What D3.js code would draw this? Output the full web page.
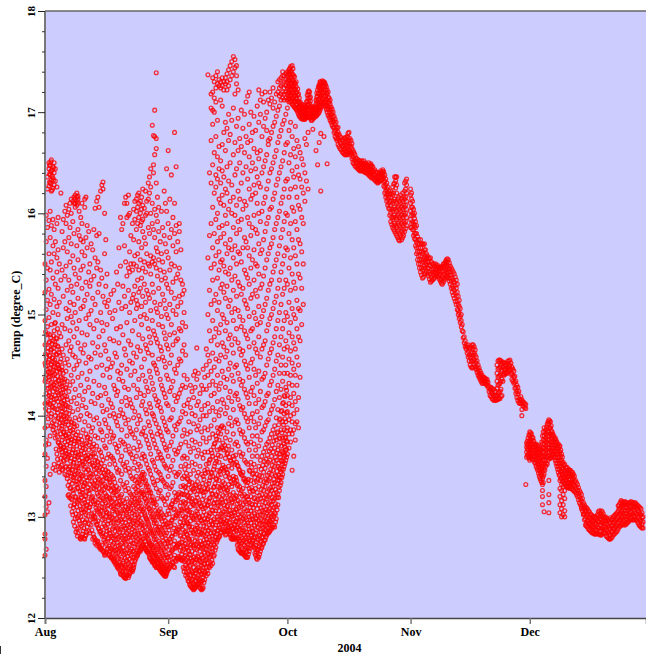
<!DOCTYPE html>
<html>
<head>
<meta charset="utf-8">
<script src="https://cdn.jsdelivr.net/npm/d3@7"></script>
<style>
  html, body { margin: 0; padding: 0; background: #fff; overflow: hidden; }
  svg { display: block; }
  text { font-family: "Liberation Serif", serif; font-weight: bold; fill: #000; }
</style>
</head>
<body>
<div id="chart"></div>
<script>
// tick values
var tempTicks = [12, 13, 14, 15, 16, 17, 18];
var tempMinorTicks = [12.2, 12.4, 12.6, 12.8, 13.2, 13.4, 13.6, 13.8, 14.2, 14.4, 14.6, 14.8, 15.2, 15.4, 15.6, 15.8, 16.2, 16.4, 16.6, 16.8, 17.2, 17.4, 17.6, 17.8];
var monthNames = ["Aug", "Sep", "Oct", "Nov", "Dec"];
var monthIndex = [7, 8, 9, 10, 11];

// readings per month: each row is [day of month, temp, temp, ...]
var augReadings = [
  [1.0, 12.62, 12.78, 12.83, 13.02, 13.2, 13.36, 13.62, 13.88, 14.12, 14.34, 14.52, 14.7, 14.94, 15.22, 15.5],
  [1.3, 12.68, 13.1, 13.3, 13.5, 13.76, 14.02, 14.22, 14.41, 14.58, 14.8, 15.05, 15.34, 15.72, 15.98],
  [1.6, 13.05, 13.58, 13.9, 14.15, 14.3, 14.46, 14.63, 14.88, 15.14, 15.46, 15.86, 16.24, 16.36],
  [2.0, 13.14, 13.72, 14.05, 14.2, 14.38, 14.55, 14.72, 14.97, 15.25, 15.6, 15.93, 16.27, 16.44, 16.5],
  [2.3, 13.42, 13.8, 14.12, 14.28, 14.42, 14.6, 14.8, 15.1, 15.44, 15.76, 16.02, 16.3, 16.38, 16.48],
  [2.6, 13.9, 14.02, 14.18, 14.33, 14.5, 14.66, 14.9, 15.2, 15.52, 15.88, 16.22, 16.33, 16.42, 16.53],
  [3.0, 13.48, 13.86, 14.08, 14.24, 14.4, 14.57, 14.74, 15.02, 15.36, 15.68, 15.94, 16.25, 16.35, 16.46],
  [3.3, 13.52, 13.95, 14.16, 14.3, 14.48, 14.63, 14.84, 15.15, 15.6, 15.84, 16.28, 16.4, 16.5],
  [3.6, 13.46, 13.78, 14.0, 14.2, 14.36, 14.52, 14.7, 14.92, 15.3, 15.72, 16.32, 16.44],
  [4.0, 13.62, 13.84, 14.06, 14.26, 14.44, 14.6, 14.76, 15.08, 15.42, 15.56, 15.9, 16.26],
  [4.3, 13.5, 13.74, 13.98, 14.14, 14.34, 14.5, 14.68, 15.0, 15.26, 15.64, 15.96],
  [4.6, 13.44, 13.66, 13.88, 14.1, 14.28, 14.46, 14.62, 14.82, 15.12, 15.5],
  [5.0, 13.58, 13.7, 13.82, 13.96, 14.08, 14.22, 14.38, 14.56, 14.78, 15.34, 16.2],
  [5.3, 13.46, 13.64, 13.76, 13.9, 14.04, 14.18, 14.32, 14.48, 14.66, 14.9, 15.44, 15.82],
  [5.6, 13.56, 13.68, 13.84, 14.0, 14.12, 14.26, 14.42, 14.6, 15.18, 15.66, 15.94],
  [6.0, 13.42, 13.6, 13.74, 13.92, 14.06, 14.2, 14.36, 14.52, 14.86, 15.38, 15.72, 16.02],
  [6.3, 13.5, 13.66, 13.8, 13.94, 14.1, 14.28, 14.44, 14.7, 15.06, 15.48, 15.9, 16.08],
  [6.6, 13.38, 13.62, 13.78, 13.98, 14.16, 14.34, 14.56, 14.96, 15.24, 15.62, 15.98],
  [7.0, 13.22, 13.44, 13.64, 13.82, 14.02, 14.24, 14.5, 14.74, 15.04, 15.34, 15.76, 16.04],
  [7.3, 13.28, 13.5, 13.7, 13.88, 14.08, 14.3, 14.64, 14.84, 15.12, 15.52, 15.86, 16.1],
  [7.6, 13.18, 13.4, 13.58, 13.76, 13.94, 14.14, 14.4, 14.68, 14.98, 15.28, 15.7, 16.0, 16.14],
  [8.0, 13.02, 13.26, 13.46, 13.66, 13.86, 14.04, 14.34, 14.6, 14.92, 15.22, 15.58, 15.92, 16.12],
  [8.3, 13.12, 13.36, 13.54, 13.72, 13.92, 14.18, 14.46, 14.78, 15.1, 15.46, 15.8, 16.1, 16.16],
  [8.6, 12.98, 13.2, 13.42, 13.6, 13.78, 13.98, 14.26, 14.58, 15.02, 15.4, 16.06, 16.1, 16.14, 16.18],
  [9.0, 12.88, 13.1, 13.32, 13.5, 13.7, 13.9, 14.12, 14.5, 14.86, 15.3, 15.68, 16.08, 16.12, 16.16, 16.2],
  [9.3, 12.84, 13.06, 13.28, 13.48, 13.64, 13.84, 14.06, 14.38, 14.72, 15.16, 15.54, 15.84, 16.1, 16.14, 16.17],
  [9.6, 12.96, 13.16, 13.38, 13.56, 13.74, 13.96, 14.2, 14.54, 14.94, 15.36, 15.78, 16.02],
  [10.0, 12.78, 13.0, 13.22, 13.42, 13.62, 13.8, 14.0, 14.3, 14.66, 15.06, 15.44, 15.74, 15.96],
  [10.3, 12.8, 13.04, 13.24, 13.4, 13.58, 13.76, 14.1, 14.42, 14.82, 15.26, 15.62, 15.9, 16.1],
  [10.6, 12.86, 13.08, 13.3, 13.52, 13.68, 13.86, 14.16, 14.62, 15.08, 15.48, 15.72],
  [11.0, 12.78, 12.94, 13.14, 13.34, 13.54, 13.72, 13.94, 14.24, 14.7, 15.14, 15.58, 16.06, 16.14],
  [11.3, 12.82, 13.02, 13.2, 13.44, 13.6, 13.82, 14.08, 14.52, 14.96, 15.32, 15.76, 16.16],
  [11.6, 12.9, 13.12, 13.36, 13.58, 13.78, 14.02, 14.36, 14.8, 15.2, 15.66, 15.88],
  [12.0, 12.86, 13.06, 13.26, 13.46, 13.66, 13.9, 14.28, 14.58, 15.0, 15.42, 15.82],
  [12.3, 12.84, 13.1, 13.32, 13.52, 13.74, 14.0, 14.44, 14.9, 15.28, 15.5],
  [12.6, 12.92, 13.18, 13.4, 13.6, 13.84, 14.14, 14.56, 15.04, 15.34, 15.7],
  [13.0, 12.78, 12.98, 13.2, 13.42, 13.62, 13.88, 14.22, 14.72, 15.16, 15.64],
  [13.3, 12.8, 13.04, 13.28, 13.5, 13.72, 13.96, 14.34, 14.86, 15.38, 15.84],
  [13.6, 12.74, 13.0, 13.16, 13.36, 13.56, 13.8, 14.12, 14.62, 15.1, 15.56, 16.05],
  [14.0, 12.72, 12.92, 13.12, 13.3, 13.48, 13.7, 13.98, 14.48, 14.94, 15.46, 15.78, 16.12],
  [14.3, 12.76, 12.96, 13.14, 13.34, 13.54, 13.78, 14.18, 14.68, 15.22, 15.52, 16.16],
  [14.6, 12.7, 12.88, 13.08, 13.28, 13.46, 13.66, 13.92, 14.3, 14.78, 15.3, 15.8, 16.06],
  [15.0, 12.68, 12.86, 13.06, 13.24, 13.44, 13.64, 13.86, 14.2, 14.6, 15.02, 15.44, 16.22],
  [15.3, 12.72, 12.9, 13.1, 13.26, 13.4, 13.6, 13.84, 14.1, 14.5, 14.92, 15.36, 16.28],
  [15.6, 12.66, 12.84, 13.02, 13.18, 13.36, 13.56, 13.76, 14.04, 14.4, 14.84, 15.18, 16.24, 16.31],
  [16.0, 12.62, 12.8, 12.98, 13.16, 13.32, 13.5, 13.7, 13.96, 14.28, 14.7, 15.12, 15.6, 16.0],
  [16.3, 12.64, 12.82, 13.0, 13.14, 13.3, 13.46, 13.68, 13.92, 14.22, 14.64, 15.28, 15.74],
  [16.6, 12.68, 12.86, 13.04, 13.2, 13.38, 13.58, 13.8, 14.06, 14.46, 14.9, 15.08, 15.4],
  [17.0, 12.62, 12.78, 12.96, 13.12, 13.28, 13.44, 13.62, 13.88, 14.16, 14.56, 15.14],
  [17.3, 12.66, 12.84, 13.0, 13.18, 13.34, 13.52, 13.74, 14.0, 14.38, 14.76, 15.02],
  [17.6, 12.6, 12.76, 12.94, 13.1, 13.26, 13.42, 13.6, 13.84, 14.12, 14.48, 15.2],
  [18.0, 12.6, 12.72, 12.88, 13.06, 13.22, 13.4, 13.58, 13.78, 14.08, 14.52, 14.96],
  [18.3, 12.58, 12.74, 12.9, 13.08, 13.24, 13.38, 13.56, 13.8, 14.02, 14.3, 14.74, 15.24],
  [18.6, 12.56, 12.7, 12.86, 13.02, 13.18, 13.34, 13.52, 13.72, 13.98, 14.26, 14.62, 15.04],
  [19.0, 12.54, 12.68, 12.82, 12.98, 13.14, 13.3, 13.48, 13.68, 13.94, 14.2, 14.58, 14.86, 15.42],
  [19.3, 12.5, 12.64, 12.78, 12.94, 13.1, 13.26, 13.44, 13.64, 13.9, 14.24, 14.44, 15.3],
  [19.6, 12.52, 12.66, 12.8, 12.96, 13.12, 13.28, 13.46, 13.7, 14.0, 14.36, 14.72, 15.12, 15.66],
  [20.0, 12.44, 12.58, 12.72, 12.88, 13.04, 13.2, 13.36, 13.56, 13.76, 14.06, 14.42, 14.88, 15.48, 15.96],
  [20.3, 12.46, 12.6, 12.74, 12.9, 13.06, 13.22, 13.42, 13.6, 13.86, 14.14, 14.5, 15.06, 15.84],
  [20.6, 12.42, 12.54, 12.7, 12.84, 13.0, 13.16, 13.32, 13.52, 13.74, 14.02, 14.34, 14.8, 15.28, 15.9],
  [21.0, 12.4, 12.52, 12.66, 12.82, 12.98, 13.14, 13.3, 13.5, 13.72, 13.98, 14.28, 14.66, 15.18, 15.68, 16.1],
  [21.3, 12.39, 12.5, 12.64, 12.78, 12.94, 13.1, 13.26, 13.46, 13.66, 13.92, 14.18, 14.6, 15.08, 15.52, 16.16],
  [21.6, 12.42, 12.56, 12.68, 12.84, 13.02, 13.18, 13.34, 13.54, 13.8, 14.1, 14.46, 14.92, 15.38, 15.96, 16.1],
  [22.0, 12.4, 12.54, 12.7, 12.86, 13.0, 13.12, 13.28, 13.48, 13.7, 13.96, 14.26, 14.74, 15.24, 15.46, 15.98, 16.18],
  [22.3, 12.44, 12.58, 12.72, 12.9, 13.06, 13.24, 13.44, 13.64, 13.88, 14.16, 14.54, 15.02, 15.42, 15.62, 16.0],
  [22.6, 12.48, 12.62, 12.76, 12.92, 13.08, 13.22, 13.4, 13.62, 13.84, 14.12, 14.4, 14.7, 15.12, 15.5, 15.78],
  [23.0, 12.46, 12.6, 12.74, 12.88, 13.04, 13.2, 13.38, 13.58, 13.82, 14.08, 14.52, 14.84, 15.16, 15.44, 15.9],
  [23.3, 12.5, 12.66, 12.82, 12.96, 13.14, 13.3, 13.48, 13.68, 13.98, 14.3, 14.62, 15.2, 15.5, 15.74, 16.04],
  [23.6, 12.56, 12.7, 12.86, 13.02, 13.18, 13.36, 13.54, 13.78, 14.04, 14.44, 14.94, 15.28, 15.58, 15.94, 16.12],
  [24.0, 12.6, 12.76, 12.92, 13.08, 13.24, 13.4, 13.6, 13.86, 14.18, 14.58, 15.06, 15.14, 15.48, 15.84, 16.02, 16.14],
  [24.3, 12.62, 12.78, 12.94, 13.1, 13.26, 13.46, 13.66, 13.92, 14.26, 14.68, 15.1, 15.34, 15.6, 15.9, 16.06, 16.18],
  [24.6, 12.66, 12.82, 13.0, 13.16, 13.34, 13.52, 13.74, 14.0, 14.36, 14.8, 15.22, 15.44, 15.72, 15.96, 16.1, 16.2],
  [25.0, 12.66, 12.8, 12.96, 13.14, 13.32, 13.5, 13.7, 13.96, 14.22, 14.64, 14.98, 15.26, 15.54, 15.88, 16.0, 16.12],
  [25.3, 12.7, 12.84, 13.02, 13.2, 13.38, 13.58, 13.82, 14.1, 14.48, 14.9, 15.08, 15.36, 15.66, 15.92, 16.04, 16.16],
  [25.6, 12.72, 12.88, 13.06, 13.24, 13.44, 13.62, 13.84, 14.14, 14.4, 14.76, 15.18, 15.46, 15.82, 15.94, 16.08, 16.24],
  [26.0, 12.7, 12.86, 13.04, 13.22, 13.42, 13.6, 13.88, 14.2, 14.56, 15.0, 15.3, 15.52, 15.76, 16.05],
  [26.3, 12.68, 12.82, 13.0, 13.18, 13.36, 13.56, 13.8, 14.06, 14.34, 14.7, 15.12, 15.42, 15.7, 15.98, 16.22],
  [26.6, 12.66, 12.8, 12.98, 13.16, 13.32, 13.52, 13.76, 14.02, 14.28, 14.66, 14.96, 15.24, 15.6, 16.0, 16.12],
  [27.0, 12.65, 12.78, 12.94, 13.12, 13.3, 13.48, 13.72, 13.94, 14.24, 14.62, 14.86, 15.2, 15.5, 15.86, 16.14, 16.3],
  [27.3, 12.6, 12.74, 12.9, 13.08, 13.26, 13.46, 13.68, 13.9, 14.12, 14.44, 14.78, 15.16, 15.48, 15.8, 16.2, 16.36],
  [27.6, 12.58, 12.72, 12.88, 13.06, 13.24, 13.42, 13.62, 13.84, 14.08, 14.38, 14.72, 15.04, 15.4, 15.58, 16.0, 16.26, 16.44],
  [28.0, 12.55, 12.7, 12.86, 13.02, 13.2, 13.38, 13.56, 13.8, 14.02, 14.32, 14.6, 14.94, 15.3, 15.52, 15.9, 16.1, 16.87],
  [28.3, 12.56, 12.7, 12.84, 13.0, 13.16, 13.34, 13.54, 13.76, 14.0, 14.26, 14.52, 14.84, 15.22, 15.56, 15.84, 16.4, 16.48, 16.77],
  [28.6, 12.52, 12.66, 12.8, 12.96, 13.14, 13.32, 13.5, 13.72, 13.96, 14.2, 14.5, 14.8, 15.12, 15.5, 15.76, 16.04, 16.58, 17.02, 16.76],
  [29.0, 12.5, 12.64, 12.78, 12.94, 13.12, 13.28, 13.46, 13.68, 13.92, 14.16, 14.46, 14.76, 15.06, 15.46, 15.66, 15.98, 16.3, 17.39, 16.74, 16.64],
  [29.3, 12.54, 12.68, 12.84, 13.0, 13.18, 13.36, 13.58, 13.82, 14.1, 14.42, 14.72, 15.02, 15.38, 15.62, 15.92, 16.16],
  [29.6, 12.5, 12.62, 12.76, 12.9, 13.06, 13.24, 13.44, 13.64, 13.88, 14.14, 14.56, 14.9, 15.26, 15.54, 15.82, 16.06],
  [30.0, 12.48, 12.6, 12.74, 12.9, 13.08, 13.26, 13.42, 13.62, 13.84, 14.08, 14.36, 14.68, 15.1, 15.44, 15.72],
  [30.3, 12.46, 12.58, 12.72, 12.88, 13.04, 13.2, 13.38, 13.58, 13.8, 14.04, 14.3, 14.64, 14.98, 15.34, 15.6, 16.02],
  [30.6, 12.44, 12.56, 12.7, 12.86, 13.02, 13.18, 13.36, 13.56, 13.76, 13.98, 14.26, 14.58, 14.88, 15.2, 15.52, 15.86],
  [31.0, 12.42, 12.54, 12.68, 12.84, 13.0, 13.16, 13.34, 13.52, 13.72, 13.94, 14.22, 14.54, 14.82, 15.14, 15.42, 15.78, 16.22],
  [31.3, 12.41, 12.52, 12.66, 12.82, 12.96, 13.12, 13.3, 13.5, 13.68, 13.9, 14.18, 14.48, 14.76, 15.06, 15.36, 15.7, 16.1],
  [31.6, 12.44, 12.56, 12.7, 12.84, 13.02, 13.18, 13.32, 13.48, 13.66, 13.86, 14.12, 14.4, 14.7, 15.0, 15.3, 15.62, 16.02, 16.44]
];

// second pass over the dense part of August, read between the first rows
var augDense = [
  [1.15, 14.37, 14.49, 14.61, 14.83, 14.07, 13.71],
  [1.8, 14.27, 14.43, 14.53, 14.67, 14.81, 14.13, 13.97],
  [2.15, 14.47, 14.35, 14.59, 14.73, 14.23, 14.11, 16.39, 16.31, 16.47],
  [2.45, 14.51, 14.39, 14.65, 14.77, 14.19, 13.99, 16.41, 16.29, 16.51],
  [2.8, 14.43, 14.29, 14.57, 14.71, 14.09, 13.93, 16.43, 16.37, 16.23],
  [3.15, 14.53, 14.31, 14.45, 14.67, 14.13, 13.89, 14.79, 16.33, 16.45],
  [3.45, 14.41, 14.27, 14.55, 14.73, 14.07, 13.83, 14.91],
  [3.8, 14.47, 14.33, 14.61, 14.77, 14.17, 13.91, 13.67],
  [4.15, 14.39, 14.23, 14.51, 14.69, 14.03, 13.79, 13.57, 14.86],
  [4.45, 14.35, 14.21, 14.47, 14.63, 13.97, 13.73, 13.53],
  [4.8, 14.43, 14.17, 14.31, 14.53, 13.93, 13.71, 13.49],
  [5.15, 14.29, 14.13, 14.45, 14.01, 13.87, 13.67, 13.51],
  [5.45, 14.37, 14.23, 14.07, 13.93, 13.79, 13.61, 13.47],
  [5.8, 14.33, 14.15, 13.99, 13.83, 13.69, 13.55],
  [6.15, 14.27, 14.11, 13.97, 13.81, 13.65, 13.49],
  [6.45, 14.19, 14.03, 13.87, 13.71, 13.57, 13.41],
  [6.8, 14.09, 13.91, 13.75, 13.59, 13.47, 13.31, 13.21],
  [7.15, 13.97, 13.79, 13.61, 13.49, 13.35, 13.19],
  [7.45, 13.85, 13.73, 13.55, 13.43, 13.29, 13.11],
  [7.8, 13.93, 13.77, 13.63, 13.47, 13.33, 13.17, 13.05],
  [8.15, 13.83, 13.67, 13.53, 13.39, 13.23, 13.09, 12.95],
  [8.45, 13.89, 13.75, 13.57, 13.41, 13.27, 13.13, 12.91],
  [8.8, 13.81, 13.63, 13.49, 13.35, 13.19, 13.03, 12.85],
  [9.15, 13.75, 13.59, 13.43, 13.29, 13.15, 12.99, 12.81],
  [9.45, 13.77, 13.61, 13.45, 13.33, 13.17, 13.01, 12.89],
  [9.8, 13.69, 13.53, 13.37, 13.25, 13.11, 12.93, 12.79],
  [10.15, 13.65, 13.51, 13.35, 13.19, 13.07, 12.91, 12.8],
  [10.45, 13.71, 13.55, 13.41, 13.27, 13.13, 12.97, 12.83],
  [10.8, 13.63, 13.47, 13.31, 13.17, 13.05, 12.89, 12.79],
  [11.15, 13.67, 13.49, 13.33, 13.21, 13.07, 12.95, 12.81],
  [11.45, 13.73, 13.57, 13.39, 13.25, 13.11, 12.97, 12.85],
  [11.8, 13.79, 13.61, 13.47, 13.29, 13.15, 13.01],
  [12.15, 13.71, 13.55, 13.39, 13.23, 13.09, 12.93],
  [12.45, 13.77, 13.59, 13.43, 13.27, 13.13, 12.97],
  [12.8, 13.69, 13.53, 13.35, 13.19, 13.03, 12.87],
  [13.15, 13.67, 13.51, 13.33, 13.15, 13.01, 12.83],
  [13.45, 13.63, 13.47, 13.31, 13.13, 12.99, 12.79],
  [13.8, 13.59, 13.43, 13.27, 13.09, 12.95, 12.77],
  [14.15, 13.55, 13.39, 13.23, 13.07, 12.93, 12.75],
  [14.45, 13.51, 13.37, 13.21, 13.05, 12.89, 12.73],
  [14.8, 13.49, 13.33, 13.17, 13.03, 12.85, 12.71],
  [15.15, 13.53, 13.35, 13.19, 13.01, 12.83, 12.69],
  [15.45, 13.47, 13.31, 13.13, 12.97, 12.81, 12.67],
  [15.8, 13.43, 13.27, 13.09, 12.93, 12.77, 12.65],
  [16.15, 13.41, 13.23, 13.07, 12.91, 12.75, 12.63],
  [16.45, 13.39, 13.21, 13.05, 12.89, 12.73, 12.65],
  [16.8, 13.45, 13.29, 13.11, 12.93, 12.79, 12.69],
  [17.15, 13.37, 13.19, 13.03, 12.87, 12.71, 12.63],
  [17.45, 13.35, 13.17, 13.01, 12.83, 12.69, 12.61],
  [17.8, 13.31, 13.15, 12.99, 12.81, 12.67, 12.59],
  [18.15, 13.29, 13.11, 12.95, 12.79, 12.65, 12.57],
  [18.45, 13.27, 13.13, 12.97, 12.81, 12.67, 12.55],
  [18.8, 13.25, 13.07, 12.91, 12.77, 12.63, 12.53],
  [19.15, 13.21, 13.05, 12.89, 12.75, 12.61, 12.51],
  [19.45, 13.19, 13.03, 12.87, 12.71, 12.59, 12.49],
  [19.8, 13.15, 13.01, 12.85, 12.69, 12.55, 12.47],
  [20.15, 13.13, 12.97, 12.81, 12.67, 12.53, 12.43],
  [20.45, 13.11, 12.95, 12.79, 12.65, 12.51, 12.45],
  [20.8, 13.07, 12.91, 12.77, 12.63, 12.49, 12.41],
  [21.15, 13.06, 12.89, 12.75, 12.59, 12.47, 12.4],
  [21.45, 13.04, 12.88, 12.73, 12.57, 12.45, 12.41],
  [21.8, 13.08, 12.92, 12.79, 12.61, 12.49, 12.43],
  [22.15, 13.1, 12.96, 12.8, 12.64, 12.5, 12.42],
  [22.45, 13.14, 12.98, 12.82, 12.66, 12.52, 12.45],
  [22.8, 13.16, 13.0, 12.84, 12.68, 12.56, 12.47],
  [23.15, 13.12, 12.94, 12.8, 12.66, 12.52, 12.48],
  [23.45, 13.22, 13.06, 12.9, 12.74, 12.6, 12.53],
  [23.8, 13.28, 13.12, 12.96, 12.8, 12.64, 12.58],
  [24.15, 13.34, 13.18, 13.02, 12.86, 12.7, 12.62],
  [24.45, 13.3, 13.14, 12.98, 12.84, 12.72, 12.64],
  [24.8, 13.36, 13.22, 13.06, 12.9, 12.74, 12.67],
  [25.15, 13.4, 13.24, 13.08, 12.92, 12.76, 12.68],
  [25.45, 13.42, 13.26, 13.1, 12.94, 12.78, 12.71],
  [25.8, 13.38, 13.22, 13.08, 12.92, 12.78, 12.72],
  [26.15, 13.34, 13.18, 13.02, 12.9, 12.76, 12.69],
  [26.45, 13.3, 13.14, 12.98, 12.84, 12.72, 12.67],
  [26.8, 13.26, 13.1, 12.96, 12.82, 12.7, 12.65],
  [27.15, 13.24, 13.08, 12.92, 12.76, 12.68, 12.63],
  [27.45, 13.2, 13.04, 12.86, 12.74, 12.66, 12.59],
  [27.8, 13.16, 13.0, 12.84, 12.72, 12.64, 12.57],
  [28.15, 13.14, 12.98, 12.82, 12.68, 12.62, 12.56],
  [28.45, 13.1, 12.94, 12.78, 12.64, 12.6, 12.54],
  [28.8, 13.06, 12.9, 12.74, 12.62, 12.58, 12.52],
  [29.15, 13.04, 12.88, 12.72, 12.6, 12.56, 12.5],
  [29.45, 13.02, 12.86, 12.7, 12.58, 12.54, 12.5],
  [29.8, 13.0, 12.84, 12.68, 12.56, 12.52, 12.48],
  [30.15, 12.98, 12.82, 12.66, 12.54, 12.5, 12.46],
  [30.45, 12.96, 12.8, 12.64, 12.52, 12.48, 12.45],
  [30.8, 12.92, 12.76, 12.62, 12.5, 12.46, 12.43],
  [31.15, 12.9, 12.74, 12.6, 12.48, 12.44, 12.42],
  [31.45, 12.92, 12.78, 12.62, 12.5, 12.46, 12.42],
  [31.8, 12.94, 12.76, 12.6, 12.52, 12.48, 12.46]
];

var sepReadings = [
  [1.0, 12.48, 12.6, 12.74, 12.9, 13.06, 13.22, 13.4, 13.6, 13.84, 14.1, 14.36, 14.66, 14.96, 15.26, 15.56, 15.9, 16.62],
  [1.4, 12.5, 12.64, 12.78, 12.94, 13.1, 13.28, 13.46, 13.7, 13.96, 14.24, 14.52, 14.8, 15.1, 15.44, 15.76, 16.14],
  [1.8, 12.52, 12.66, 12.8, 12.96, 13.12, 13.3, 13.5, 13.74, 13.98, 14.28, 14.6, 14.9, 15.22, 15.5, 15.84, 16.38],
  [2.2, 12.54, 12.68, 12.84, 13.0, 13.16, 13.34, 13.56, 13.8, 14.06, 14.34, 14.7, 15.04, 15.32, 15.68, 15.96],
  [2.6, 12.5, 12.62, 12.76, 12.92, 13.08, 13.24, 13.44, 13.66, 13.9, 14.2, 14.46, 14.82, 15.16, 15.48, 15.8, 16.1, 16.8],
  [3.0, 12.56, 12.7, 12.86, 13.02, 13.2, 13.4, 13.62, 13.86, 14.14, 14.42, 14.74, 15.0, 15.36, 15.62, 15.88, 16.46],
  [3.4, 12.58, 12.72, 12.88, 13.04, 13.22, 13.42, 13.64, 13.92, 14.18, 14.5, 14.76, 15.08, 15.4, 15.72],
  [3.8, 12.6, 12.74, 12.9, 13.06, 13.24, 13.44, 13.68, 13.94, 14.22, 14.56, 14.86, 15.18, 15.46, 15.82, 15.9],
  [4.2, 12.58, 12.7, 12.82, 12.98, 13.14, 13.3, 13.5, 13.72, 13.98, 14.26, 14.54, 14.84, 15.12, 15.34, 15.64],
  [4.6, 12.57, 12.66, 12.78, 12.92, 13.06, 13.22, 13.38, 13.58, 13.8, 14.04, 14.3, 14.64, 14.92, 15.2, 15.3],
  [5.0, 12.46, 12.56, 12.68, 12.8, 12.94, 13.08, 13.22, 13.4, 13.6, 13.86, 14.1, 14.4, 14.7, 15.02, 15.24],
  [5.4, 12.42, 12.52, 12.62, 12.74, 12.86, 13.0, 13.14, 13.3, 13.52, 13.74, 14.02, 14.28, 14.6, 14.88],
  [5.8, 12.4, 12.5, 12.6, 12.7, 12.82, 12.94, 13.06, 13.2, 13.38, 13.58, 13.82, 14.12, 14.36],
  [6.2, 12.36, 12.46, 12.56, 12.66, 12.78, 12.9, 13.02, 13.16, 13.32, 13.5, 13.7, 13.94, 14.16],
  [6.6, 12.32, 12.42, 12.52, 12.62, 12.72, 12.84, 12.96, 13.1, 13.24, 13.42, 13.64, 13.84, 14.08, 14.3],
  [7.0, 12.3, 12.38, 12.46, 12.56, 12.66, 12.78, 12.9, 13.04, 13.18, 13.34, 13.54, 13.76, 14.02, 14.24],
  [7.4, 12.28, 12.34, 12.42, 12.5, 12.6, 12.72, 12.84, 12.98, 13.12, 13.28, 13.46, 13.68, 13.92, 14.18, 14.4],
  [7.8, 12.3, 12.36, 12.44, 12.54, 12.64, 12.76, 12.88, 13.02, 13.16, 13.32, 13.52, 13.74, 14.0, 14.28, 14.44],
  [8.2, 12.32, 12.4, 12.48, 12.58, 12.68, 12.8, 12.92, 13.06, 13.22, 13.4, 13.6, 13.86, 14.1, 14.36, 14.67],
  [8.6, 12.34, 12.42, 12.5, 12.6, 12.7, 12.82, 12.94, 13.08, 13.26, 13.44, 13.66, 13.9, 14.14, 14.42],
  [9.0, 12.3, 12.38, 12.46, 12.56, 12.66, 12.76, 12.88, 13.0, 13.14, 13.3, 13.5, 13.72, 13.96, 14.22],
  [9.4, 12.28, 12.36, 12.44, 12.52, 12.62, 12.72, 12.84, 12.96, 13.1, 13.26, 13.42, 13.62, 13.84, 14.06, 14.3],
  [9.8, 12.3, 12.4, 12.5, 12.6, 12.7, 12.82, 12.94, 13.08, 13.24, 13.4, 13.58, 13.78, 14.0, 14.26, 14.46],
  [10.2, 12.38, 12.46, 12.54, 12.64, 12.74, 12.86, 12.98, 13.12, 13.28, 13.46, 13.64, 13.88, 14.1, 14.38],
  [10.6, 12.42, 12.5, 12.58, 12.68, 12.78, 12.9, 13.02, 13.16, 13.32, 13.52, 13.74, 14.0, 14.26, 14.5, 14.66],
  [11.0, 12.44, 12.54, 12.64, 12.74, 12.86, 12.98, 13.12, 13.28, 13.44, 13.64, 13.86, 14.12, 14.4, 14.6, 15.0, 15.56, 17.37],
  [11.4, 12.5, 12.6, 12.7, 12.8, 12.92, 13.04, 13.18, 13.36, 13.56, 13.78, 14.04, 14.3, 14.54, 14.84, 15.24, 15.78, 16.4],
  [11.8, 12.52, 12.62, 12.72, 12.84, 12.96, 13.1, 13.26, 13.44, 13.66, 13.9, 14.2, 14.44, 14.74, 15.1, 15.46, 15.9, 16.3, 16.72, 17.04, 17.18],
  [12.2, 12.54, 12.66, 12.78, 12.92, 13.06, 13.22, 13.4, 13.6, 13.82, 14.08, 14.34, 14.62, 14.94, 15.34, 15.66, 16.06, 16.48, 16.88, 17.02, 17.2, 17.34],
  [12.6, 12.62, 12.72, 12.84, 12.98, 13.14, 13.3, 13.5, 13.72, 13.96, 14.22, 14.48, 14.78, 15.14, 15.5, 15.8, 16.2, 16.6, 17.0, 17.14, 17.3],
  [13.0, 12.7, 12.8, 12.92, 13.06, 13.22, 13.38, 13.58, 13.8, 14.04, 14.3, 14.56, 14.86, 15.2, 15.58, 15.94, 16.26, 16.38, 16.76, 17.1, 17.24, 17.36],
  [13.4, 12.77, 12.86, 13.0, 13.14, 13.3, 13.46, 13.66, 13.88, 14.14, 14.4, 14.7, 15.04, 15.36, 15.72, 16.0, 16.34, 16.56, 16.92, 17.28, 17.4],
  [13.8, 12.8, 12.92, 13.06, 13.2, 13.36, 13.54, 13.76, 14.0, 14.26, 14.54, 14.82, 15.12, 15.44, 15.62, 15.86, 16.14, 16.44, 16.66, 17.26, 17.32],
  [14.2, 12.84, 12.96, 13.1, 13.26, 13.42, 13.6, 13.82, 14.06, 14.32, 14.6, 14.9, 15.26, 15.52, 15.76, 16.1, 16.3, 16.52, 17.12, 17.24, 17.3],
  [14.6, 12.88, 13.0, 13.14, 13.3, 13.48, 13.68, 13.9, 14.16, 14.44, 14.72, 15.0, 15.3, 15.54, 15.88, 16.18, 16.42, 16.68, 17.06, 17.26, 17.34],
  [15.0, 12.86, 12.98, 13.12, 13.28, 13.46, 13.66, 13.88, 14.12, 14.38, 14.68, 14.96, 15.22, 15.48, 15.8, 16.08, 16.36, 16.8, 17.22, 17.3],
  [15.4, 12.82, 12.94, 13.08, 13.24, 13.4, 13.58, 13.78, 14.02, 14.28, 14.58, 14.84, 15.16, 15.42, 15.7, 15.98, 16.24, 16.62, 16.9, 17.28, 17.34],
  [15.8, 12.86, 12.96, 13.1, 13.26, 13.44, 13.62, 13.84, 14.08, 14.36, 14.64, 14.92, 15.28, 15.6, 15.9, 16.2, 16.46, 16.84, 17.22, 17.3, 17.38],
  [16.2, 12.9, 13.02, 13.16, 13.32, 13.5, 13.7, 13.92, 14.18, 14.46, 14.76, 15.08, 15.4, 15.66, 16.04, 16.32, 16.72, 16.98, 17.26, 17.42],
  [16.6, 12.82, 12.94, 13.06, 13.22, 13.38, 13.56, 13.76, 13.98, 14.24, 14.52, 14.8, 15.14, 15.46, 15.74, 16.12, 16.5, 16.78, 17.32, 17.46],
  [17.0, 12.78, 12.88, 13.0, 13.14, 13.3, 13.48, 13.66, 13.9, 14.14, 14.4, 14.7, 15.02, 15.34, 15.64, 16.0, 16.28, 16.92, 17.36, 17.5],
  [17.4, 12.78, 12.88, 12.98, 13.1, 13.24, 13.4, 13.6, 13.82, 14.06, 14.34, 14.62, 14.94, 15.24, 15.56, 15.86, 16.16, 16.58, 17.04, 17.4, 17.55],
  [17.8, 12.8, 12.92, 13.04, 13.18, 13.34, 13.52, 13.72, 13.94, 14.2, 14.48, 14.76, 15.06, 15.38, 15.68, 15.98, 16.38, 16.7, 17.18, 17.44, 17.52],
  [18.2, 12.77, 12.86, 12.96, 13.08, 13.2, 13.36, 13.54, 13.74, 13.96, 14.22, 14.5, 14.86, 15.18, 15.5, 15.8, 16.08, 16.44, 16.86, 17.28, 17.36, 17.46],
  [18.6, 12.68, 12.78, 12.9, 13.02, 13.16, 13.32, 13.5, 13.7, 13.92, 14.16, 14.42, 14.72, 15.04, 15.32, 15.62, 15.92, 16.22, 16.62, 16.94, 17.22],
  [19.0, 12.66, 12.76, 12.88, 13.0, 13.14, 13.3, 13.46, 13.64, 13.86, 14.1, 14.36, 14.66, 14.98, 15.28, 15.6, 15.84, 16.14, 16.5, 16.74],
  [19.4, 12.64, 12.74, 12.84, 12.96, 13.1, 13.26, 13.42, 13.6, 13.82, 14.06, 14.3, 14.6, 14.88, 15.2, 15.52, 15.94, 16.3, 16.66, 17.02],
  [19.8, 12.65, 12.76, 12.86, 12.98, 13.12, 13.28, 13.44, 13.62, 13.84, 14.08, 14.34, 14.64, 14.94, 15.26, 15.66, 16.04, 16.4, 16.84],
  [20.2, 12.62, 12.72, 12.82, 12.94, 13.08, 13.22, 13.38, 13.56, 13.78, 14.02, 14.26, 14.54, 14.84, 15.14, 15.44, 15.76, 16.12, 16.6, 16.98],
  [20.6, 12.6, 12.7, 12.8, 12.92, 13.06, 13.2, 13.36, 13.54, 13.74, 13.98, 14.22, 14.5, 14.8, 15.1, 15.4, 15.72, 16.08, 16.46, 16.76, 17.1],
  [21.0, 12.6, 12.7, 12.82, 12.94, 13.06, 13.2, 13.34, 13.52, 13.72, 13.94, 14.18, 14.46, 14.76, 15.06, 15.36, 15.66, 15.96, 16.34, 16.7, 17.16],
  [21.4, 12.66, 12.76, 12.88, 13.0, 13.14, 13.28, 13.46, 13.66, 13.88, 14.12, 14.38, 14.68, 14.98, 15.3, 15.58, 15.9, 16.24, 16.56, 16.88, 17.2],
  [21.8, 12.72, 12.82, 12.94, 13.06, 13.2, 13.36, 13.54, 13.74, 13.98, 14.24, 14.52, 14.84, 15.16, 15.46, 15.78, 16.14, 16.42, 16.72, 17.0],
  [22.2, 12.76, 12.86, 12.98, 13.12, 13.26, 13.42, 13.6, 13.8, 14.02, 14.28, 14.56, 14.86, 15.2, 15.54, 15.86, 16.18, 16.5, 16.8],
  [22.6, 12.7, 12.8, 12.92, 13.04, 13.18, 13.34, 13.52, 13.72, 13.94, 14.2, 14.46, 14.72, 15.02, 15.34, 15.64, 15.98, 16.28, 16.64, 16.96],
  [23.0, 12.62, 12.72, 12.84, 12.98, 13.12, 13.28, 13.46, 13.66, 13.88, 14.12, 14.4, 14.66, 14.96, 15.24, 15.5, 15.84, 16.2, 16.44, 16.82],
  [23.4, 12.58, 12.68, 12.8, 12.94, 13.08, 13.24, 13.42, 13.6, 13.8, 14.04, 14.32, 14.62, 14.9, 15.18, 15.48, 15.8, 16.1, 16.36, 16.6, 17.06],
  [23.8, 12.6, 12.7, 12.82, 12.96, 13.12, 13.3, 13.5, 13.7, 13.92, 14.16, 14.44, 14.78, 15.08, 15.4, 15.7, 16.0, 16.3, 16.54, 16.9, 17.22],
  [24.2, 12.66, 12.76, 12.88, 13.02, 13.18, 13.36, 13.56, 13.76, 13.98, 14.24, 14.58, 14.92, 15.26, 15.6, 15.92, 16.26, 16.62, 16.98, 17.12],
  [24.6, 12.7, 12.8, 12.92, 13.06, 13.22, 13.4, 13.6, 13.84, 14.08, 14.36, 14.66, 14.98, 15.3, 15.64, 16.02, 16.4, 16.76, 17.18],
  [25.0, 12.74, 12.84, 12.96, 13.1, 13.26, 13.44, 13.64, 13.86, 14.1, 14.38, 14.7, 15.04, 15.38, 15.74, 16.1, 16.46, 16.86, 17.1],
  [25.4, 12.77, 12.88, 13.0, 13.14, 13.3, 13.48, 13.68, 13.9, 14.14, 14.42, 14.74, 15.1, 15.46, 15.82, 16.16, 16.52, 16.94, 17.2],
  [25.8, 12.82, 12.92, 13.04, 13.18, 13.34, 13.52, 13.72, 13.94, 14.2, 14.5, 14.84, 15.16, 15.54, 15.9, 16.24, 16.58, 16.82, 17.0],
  [26.2, 12.84, 12.94, 13.06, 13.2, 13.36, 13.54, 13.74, 13.96, 14.22, 14.56, 14.9, 15.24, 15.6, 15.96, 16.32, 16.68, 16.72, 17.12],
  [26.6, 12.86, 12.96, 13.08, 13.22, 13.38, 13.56, 13.78, 14.02, 14.3, 14.62, 14.96, 15.3, 15.66, 16.04, 16.4, 16.74, 17.08, 17.2],
  [27.0, 12.88, 13.0, 13.12, 13.26, 13.42, 13.6, 13.82, 14.06, 14.34, 14.66, 15.0, 15.34, 15.7, 16.06, 16.44, 16.8, 17.14],
  [27.4, 12.9, 13.02, 13.16, 13.3, 13.46, 13.64, 13.86, 14.1, 14.4, 14.72, 15.06, 15.42, 15.76, 16.14, 16.5, 16.86, 17.04, 17.24],
  [27.8, 12.9, 13.04, 13.18, 13.34, 13.5, 13.68, 13.9, 14.16, 14.46, 14.78, 15.12, 15.48, 15.84, 16.2, 16.56, 16.9, 17.1],
  [28.2, 12.98, 13.1, 13.24, 13.4, 13.56, 13.76, 13.98, 14.24, 14.54, 14.86, 15.18, 15.54, 15.9, 16.28, 16.62, 16.96, 17.18],
  [28.6, 13.12, 13.22, 13.36, 13.5, 13.66, 13.84, 14.06, 14.3, 14.6, 14.94, 15.26, 15.6, 15.96, 16.34, 16.7, 17.02, 17.2, 17.3],
  [29.0, 13.26, 13.36, 13.48, 13.62, 13.78, 13.96, 14.18, 14.42, 14.7, 15.02, 15.34, 15.68, 16.02, 16.4, 16.76, 17.06, 17.16, 17.24, 17.32],
  [29.4, 13.34, 13.44, 13.56, 13.7, 13.86, 14.04, 14.26, 14.5, 14.78, 15.1, 15.42, 15.76, 16.1, 16.46, 16.82, 17.12, 17.18, 17.26, 17.34],
  [29.8, 13.42, 13.52, 13.64, 13.78, 13.94, 14.12, 14.34, 14.58, 14.86, 15.2, 15.5, 15.84, 16.16, 16.52, 16.88, 17.14, 17.2, 17.28, 17.36, 17.4],
  [30.2, 13.5, 13.6, 13.72, 13.86, 14.02, 14.2, 14.42, 14.66, 14.94, 15.26, 15.58, 15.92, 16.24, 16.6, 16.92, 17.12, 17.18, 17.24, 17.3, 17.36],
  [30.6, 13.56, 13.66, 13.78, 13.94, 14.1, 14.28, 14.5, 14.74, 15.02, 15.34, 15.66, 16.0, 16.32, 16.68, 16.98, 17.14, 17.2, 17.26, 17.32, 17.38]
];

// second pass over the dense part of September
var sepDense = [
  [1.2, 13.03, 12.87, 12.71, 12.57, 12.49],
  [1.6, 13.09, 12.91, 12.75, 12.61, 12.53],
  [2.0, 13.13, 12.97, 12.81, 12.67, 12.55],
  [2.4, 13.07, 12.89, 12.73, 12.59, 12.51],
  [2.8, 13.15, 12.99, 12.83, 12.69, 12.57],
  [3.2, 13.17, 13.01, 12.85, 12.71, 12.59],
  [3.6, 13.19, 13.03, 12.87, 12.73, 12.61],
  [4.0, 13.11, 12.95, 12.81, 12.67, 12.59],
  [4.4, 13.07, 12.91, 12.75, 12.63, 12.57, 13.23],
  [4.8, 13.01, 12.87, 12.71, 12.59, 12.5, 13.15, 13.31],
  [5.2, 12.99, 12.85, 12.73, 12.61, 12.49, 13.13, 13.29, 13.47],
  [5.6, 12.95, 12.83, 12.69, 12.57, 12.45, 13.09, 13.25, 13.43],
  [6.0, 12.93, 12.79, 12.67, 12.55, 12.43, 12.37, 13.07, 13.21, 13.37],
  [6.4, 12.91, 12.77, 12.63, 12.51, 12.39, 12.33, 13.05, 13.19, 13.35],
  [6.8, 12.87, 12.73, 12.59, 12.47, 12.37, 12.31, 13.01, 13.15, 13.29],
  [7.2, 12.85, 12.71, 12.57, 12.45, 12.35, 12.29, 12.99, 13.13, 13.27],
  [7.6, 12.83, 12.69, 12.55, 12.41, 12.33, 12.29, 12.97, 13.11, 13.25],
  [8.0, 12.87, 12.73, 12.59, 12.47, 12.37, 12.31, 13.01, 13.15, 13.31],
  [8.4, 12.89, 12.75, 12.61, 12.49, 12.39, 12.33, 13.03, 13.19, 13.35],
  [8.8, 12.85, 12.71, 12.57, 12.47, 12.37, 12.33, 12.99, 13.13, 13.29],
  [9.2, 12.83, 12.69, 12.55, 12.43, 12.35, 12.29, 12.97, 13.11, 13.25],
  [9.6, 12.87, 12.73, 12.59, 12.47, 12.37, 12.29, 13.01, 13.17, 13.33],
  [10.0, 12.91, 12.77, 12.65, 12.53, 12.43, 12.35, 13.05, 13.21, 13.37],
  [10.4, 12.95, 12.81, 12.69, 12.57, 12.45, 13.09, 13.25, 13.43],
  [10.8, 12.97, 12.83, 12.71, 12.59, 12.47, 13.11, 13.27, 13.47],
  [11.2, 13.01, 12.87, 12.75, 12.63, 12.51, 13.15, 13.33, 13.53],
  [11.6, 13.03, 12.89, 12.77, 12.65, 12.55, 13.19, 13.39, 13.57],
  [12.0, 13.07, 12.93, 12.81, 12.69, 12.57, 13.23, 13.43, 13.63],
  [12.4, 13.13, 12.97, 12.85, 12.73, 12.61, 13.29, 13.47, 13.69],
  [12.8, 13.17, 13.03, 12.89, 12.77, 12.67, 13.33, 13.53, 13.73],
  [13.2, 13.21, 13.09, 12.95, 12.83, 12.75, 13.37, 13.55, 13.77],
  [13.6, 13.25, 13.11, 12.97, 12.87, 12.79, 13.41, 13.61, 13.83],
  [14.0, 13.29, 13.15, 13.01, 12.89, 12.81, 13.45, 13.67, 13.87],
  [14.4, 13.31, 13.17, 13.03, 12.93, 12.85, 13.47, 13.69, 13.89],
  [14.8, 13.35, 13.21, 13.05, 12.95, 12.87, 13.51, 13.73],
  [15.2, 13.33, 13.19, 13.05, 12.93, 12.85, 13.49, 13.71],
  [15.6, 13.29, 13.15, 13.03, 12.91, 12.83, 13.47, 13.67],
  [16.0, 13.27, 13.11, 12.99, 12.89, 12.87, 13.43, 13.63],
  [16.4, 13.21, 13.07, 12.95, 12.87, 12.83, 13.39, 13.59],
  [16.8, 13.17, 13.03, 12.91, 12.83, 12.79, 13.35, 13.55],
  [17.2, 13.15, 13.01, 12.89, 12.81, 12.78, 13.33, 13.53],
  [17.6, 13.19, 13.05, 12.93, 12.85, 12.79, 13.37, 13.57],
  [18.0, 13.21, 13.07, 12.95, 12.87, 12.79, 13.39, 13.61],
  [18.4, 13.13, 12.99, 12.89, 12.79, 12.72, 13.31, 13.51],
  [18.8, 13.09, 12.95, 12.83, 12.73, 12.67, 13.27, 13.47],
  [19.2, 13.05, 12.91, 12.81, 12.71, 12.65, 13.23, 13.43],
  [19.6, 13.03, 12.89, 12.79, 12.69, 12.64, 13.21, 13.41],
  [20.0, 13.01, 12.87, 12.77, 12.67, 12.63, 13.17, 13.37],
  [20.4, 12.99, 12.85, 12.75, 12.65, 12.61, 13.15, 13.35],
  [20.8, 12.97, 12.85, 12.75, 12.65, 12.6, 13.13, 13.31],
  [21.2, 13.03, 12.91, 12.79, 12.69, 12.63, 13.17, 13.37],
  [21.6, 13.09, 12.97, 12.85, 12.77, 12.69, 13.25, 13.45],
  [22.0, 13.13, 13.01, 12.89, 12.81, 12.74, 13.29, 13.49],
  [22.4, 13.09, 12.97, 12.85, 12.77, 12.71, 13.25, 13.43],
  [22.8, 13.03, 12.91, 12.79, 12.69, 12.64, 13.19, 13.39],
  [23.2, 12.99, 12.87, 12.75, 12.65, 12.59, 13.15, 13.35],
  [23.6, 13.01, 12.89, 12.77, 12.67, 12.61, 13.17, 13.37],
  [24.0, 13.05, 12.93, 12.81, 12.71, 12.63, 13.21, 13.41],
  [24.4, 13.09, 12.97, 12.85, 12.75, 12.69, 13.27, 13.47],
  [24.8, 13.15, 13.01, 12.89, 12.79, 12.73, 13.31, 13.51],
  [25.2, 13.19, 13.05, 12.93, 12.83, 12.77, 13.35, 13.55],
  [25.6, 13.21, 13.07, 12.95, 12.87, 12.8, 13.37, 13.57],
  [26.0, 13.25, 13.11, 12.99, 12.89, 12.84, 13.41, 13.61],
  [26.4, 13.27, 13.13, 13.01, 12.93, 12.85, 13.43, 13.65],
  [26.8, 13.29, 13.15, 13.03, 12.95, 12.89, 13.47, 13.67],
  [27.2, 13.33, 13.19, 13.07, 12.97, 12.9, 13.51, 13.71],
  [27.6, 13.37, 13.23, 13.09, 13.0, 12.92, 13.55, 13.75],
  [28.0, 13.41, 13.27, 13.13, 13.03, 12.95, 13.59, 13.79],
  [28.4, 13.45, 13.33, 13.19, 13.07, 13.63, 13.83],
  [28.8, 13.53, 13.41, 13.29, 13.19, 13.71, 13.91],
  [29.2, 13.59, 13.47, 13.39, 13.31, 13.77, 13.97],
  [29.6, 13.65, 13.55, 13.47, 13.39, 13.83, 14.05],
  [30.0, 13.73, 13.63, 13.55, 13.47, 13.91, 14.13],
  [30.4, 13.79, 13.69, 13.61, 13.53, 13.97, 14.19],
  [30.8, 13.85, 13.75, 13.67, 13.59, 14.03, 14.25]
];

var octReadings = [
  [1.0, 13.62, 13.74, 13.88, 14.04, 14.2, 14.42, 14.68, 14.98, 15.3, 15.64, 15.98, 16.34, 16.7, 17.04, 17.12, 17.18, 17.24, 17.3, 17.36, 17.4],
  [1.4, 13.68, 13.82, 13.96, 14.12, 14.32, 14.56, 14.82, 15.12, 15.46, 15.8, 16.16, 16.5, 16.82, 17.1, 17.16, 17.22, 17.28, 17.34, 17.4, 17.42],
  [1.8, 13.74, 13.86, 14.0, 14.18, 14.4, 14.64, 14.92, 15.24, 15.56, 15.9, 16.24, 16.58, 16.9, 17.1, 17.16, 17.22, 17.28, 17.34, 17.4, 17.45],
  [2.2, 13.46, 13.82, 13.94, 14.1, 14.3, 14.52, 14.78, 15.06, 15.4, 15.74, 16.06, 16.42, 16.76, 17.08, 17.14, 17.2, 17.26, 17.32, 17.38, 17.46],
  [2.6, 13.6, 13.86, 14.02, 14.22, 14.46, 14.72, 15.0, 15.32, 15.66, 16.02, 16.36, 16.64, 17.06, 17.12, 17.18, 17.24, 17.3, 17.36],
  [3.0, 13.76, 13.92, 14.14, 14.4, 14.66, 14.96, 15.26, 15.58, 15.92, 16.26, 16.56, 16.86, 17.04, 17.1, 17.16, 17.22, 17.28],
  [3.4, 13.94, 14.06, 14.3, 14.58, 14.86, 15.14, 15.5, 15.84, 16.16, 16.46, 16.72, 17.02, 17.08, 17.14, 17.2],
  [3.8, 13.88, 14.18, 14.5, 14.78, 15.06, 15.4, 15.74, 16.08, 16.38, 16.66, 16.98, 17.04, 17.1, 17.18],
  [4.2, 14.38, 14.74, 15.04, 15.36, 15.7, 16.04, 16.34, 16.6, 16.96, 17.0, 17.06, 17.1],
  [4.6, 14.9, 15.26, 15.62, 15.96, 16.26, 16.54, 16.94, 16.98, 17.04, 17.08],
  [5.0, 15.1, 15.5, 15.9, 16.2, 16.48, 16.94, 16.98, 17.03, 17.07],
  [5.4, 16.12, 16.4, 16.74, 16.93, 16.98, 17.03, 17.06],
  [5.8, 16.32, 16.68, 16.95, 17.0, 17.05, 17.1],
  [6.2, 16.24, 16.8, 16.96, 17.02, 17.08, 17.14, 17.2],
  [6.6, 16.96, 17.02, 17.08, 17.14, 17.2],
  [7.0, 16.92, 16.97, 17.02, 17.06],
  [7.4, 16.83, 16.94, 16.99, 17.04],
  [7.8, 16.95, 17.0, 17.05],
  [8.2, 16.62, 16.96, 17.02, 17.08, 17.12],
  [8.6, 16.48, 16.98, 17.04, 17.1, 17.16, 17.22],
  [9.0, 16.7, 17.0, 17.06, 17.12, 17.18, 17.24, 17.27],
  [9.4, 16.79, 16.22, 17.04, 17.1, 17.16, 17.22, 17.28, 17.3],
  [9.8, 17.08, 17.14, 17.2, 17.26, 17.31],
  [10.2, 16.76, 17.1, 17.16, 17.22, 17.28, 17.3],
  [10.6, 17.05, 17.1, 17.16, 17.22, 17.27],
  [11.0, 16.49, 17.0, 17.06, 17.12, 17.18, 17.22],
  [11.5, 16.95, 17.0, 17.05, 17.1, 17.14],
  [12.0, 16.9, 16.95, 17.0, 17.05],
  [12.5, 16.85, 16.9, 16.95, 17.0],
  [13.0, 16.76, 16.82, 16.88, 16.93],
  [13.5, 16.72, 16.78, 16.84],
  [14.0, 16.66, 16.72, 16.78],
  [14.5, 16.63, 16.69, 16.75],
  [15.0, 16.6, 16.66, 16.72],
  [15.5, 16.58, 16.64, 16.7, 16.75],
  [16.0, 16.58, 16.64, 16.7, 16.76],
  [16.5, 16.6, 16.66, 16.72, 16.8],
  [17.0, 16.6, 16.66, 16.72],
  [17.5, 16.5, 16.56, 16.62],
  [18.0, 16.47, 16.52, 16.58],
  [18.5, 16.45, 16.5, 16.54],
  [19.0, 16.43, 16.47, 16.52],
  [19.5, 16.42, 16.46, 16.5],
  [20.0, 16.42, 16.46, 16.5],
  [20.5, 16.41, 16.45, 16.49],
  [21.0, 16.4, 16.44, 16.48],
  [21.5, 16.38, 16.42, 16.46, 16.5],
  [22.0, 16.36, 16.41, 16.46, 16.49],
  [22.5, 16.36, 16.41, 16.46],
  [23.0, 16.33, 16.38, 16.43],
  [23.5, 16.31, 16.35, 16.4],
  [24.0, 16.31, 16.36, 16.4],
  [24.5, 16.33, 16.38, 16.42],
  [25.0, 16.34, 16.38, 16.41, 16.43],
  [25.5, 16.2, 16.26, 16.32, 16.38],
  [26.0, 16.12, 16.18, 16.24, 16.3],
  [26.5, 16.05, 16.1, 16.16, 16.22],
  [27.0, 15.92, 16.0, 16.08, 16.16, 16.22],
  [27.5, 15.86, 15.94, 16.02, 16.1, 16.18, 16.26],
  [28.0, 15.82, 15.9, 15.98, 16.06, 16.14, 16.3, 16.36],
  [28.5, 15.78, 15.86, 15.94, 16.02, 16.1, 16.2, 16.28, 16.36],
  [29.0, 15.74, 15.84, 15.92, 16.0, 16.08, 16.16],
  [29.5, 15.78, 15.86, 15.94, 16.02, 16.1, 16.18],
  [30.0, 15.76, 15.8, 15.88, 15.96, 16.04, 16.12, 16.2],
  [30.5, 15.82, 15.9, 15.98, 16.06, 16.14, 16.22, 16.3],
  [31.0, 15.88, 15.96, 16.04, 16.12, 16.2, 16.28, 16.34]
];

// second pass along the solid band from October on
var octBand = [
  [1.2, 17.14, 17.2, 17.26, 17.32, 17.38], [1.6, 17.13, 17.19, 17.25, 17.31, 17.37, 17.43], [2.0, 17.11, 17.17, 17.23, 17.29, 17.35, 17.41],
  [2.4, 17.07, 17.13, 17.19, 17.25, 17.31, 17.37, 17.43], [2.8, 17.05, 17.11, 17.17, 17.23, 17.29, 17.35], [3.2, 17.03, 17.07, 17.13, 17.19, 17.25, 17.3],
  [3.6, 17.0, 17.05, 17.11, 17.17, 17.23], [4.0, 16.96, 17.01, 17.05, 17.09, 17.14], [4.4, 16.94, 16.99, 17.03, 17.07], [4.8, 16.93, 16.97, 17.01, 17.05],
  [5.2, 16.93, 16.96, 17.0, 17.05], [5.6, 16.94, 16.97, 17.01, 17.04], [6.0, 16.95, 16.99, 17.03, 17.07, 17.11, 17.17], [6.4, 16.95, 16.99, 17.05, 17.11, 17.17, 17.21],
  [6.8, 16.94, 16.99, 17.05, 17.11, 17.15], [7.2, 16.92, 16.95, 17.0, 17.04], [7.6, 16.94, 16.97, 17.01, 17.04], [8.0, 16.96, 16.99, 17.03, 17.06],
  [8.4, 16.97, 17.0, 17.05, 17.11, 17.15, 17.19], [8.8, 16.99, 17.03, 17.07, 17.13, 17.19, 17.25], [9.2, 17.02, 17.05, 17.09, 17.15, 17.21, 17.26, 17.3], [9.6, 17.06, 17.11, 17.17, 17.23, 17.29],
  [10.0, 17.09, 17.13, 17.19, 17.25, 17.3], [10.4, 17.07, 17.13, 17.19, 17.25, 17.29], [10.8, 17.03, 17.07, 17.13, 17.19, 17.25], [11.25, 16.97, 17.03, 17.09, 17.15, 17.2],
  [11.75, 16.92, 16.97, 17.03, 17.08, 17.12], [12.25, 16.87, 16.92, 16.98, 17.03], [12.75, 16.8, 16.85, 16.91, 16.96], [13.25, 16.74, 16.79, 16.85, 16.9],
  [13.75, 16.68, 16.74, 16.8, 16.85], [14.25, 16.64, 16.7, 16.76], [14.75, 16.61, 16.67, 16.73], [15.25, 16.59, 16.63, 16.68, 16.74], [15.75, 16.58, 16.62, 16.68, 16.74],
  [16.25, 16.59, 16.63, 16.69, 16.75, 16.79], [16.75, 16.58, 16.62, 16.68, 16.74], [17.25, 16.54, 16.59, 16.64, 16.69], [17.75, 16.49, 16.54, 16.6], [18.25, 16.46, 16.5, 16.55],
  [18.75, 16.44, 16.48, 16.53], [19.25, 16.42, 16.45, 16.49, 16.52], [19.75, 16.43, 16.48, 16.52], [20.25, 16.41, 16.44, 16.48, 16.52], [20.75, 16.4, 16.43, 16.47, 16.5],
  [21.25, 16.39, 16.43, 16.47], [21.75, 16.37, 16.4, 16.44, 16.48], [22.25, 16.35, 16.39, 16.43, 16.47], [22.75, 16.34, 16.38, 16.42], [23.25, 16.32, 16.36, 16.41],
  [23.75, 16.3, 16.33, 16.37], [24.25, 16.32, 16.36, 16.4], [24.75, 16.33, 16.36, 16.4], [25.25, 16.27, 16.31, 16.36, 16.41], [25.75, 16.16, 16.22, 16.28, 16.34],
  [26.25, 16.08, 16.14, 16.2, 16.26], [26.75, 15.98, 16.04, 16.12, 16.19], [27.25, 15.89, 15.96, 16.04, 16.12, 16.2], [27.75, 15.84, 15.88, 15.96, 16.04, 16.12, 16.2, 16.29],
  [28.25, 15.8, 15.88, 15.96, 16.04, 16.12, 16.25, 16.32, 16.36], [28.75, 15.76, 15.82, 15.9, 15.98, 16.06, 16.14], [29.25, 15.73, 15.8, 15.88, 15.96, 16.04, 16.12], [29.75, 15.74, 15.82, 15.9, 15.98, 16.06, 16.14],
  [30.25, 15.78, 15.84, 15.92, 16.0, 16.08, 16.16], [30.75, 15.85, 15.92, 16.0, 16.08, 16.16, 16.24, 16.32]
];

var novReadings = [
  [1.0, 15.86, 15.94, 16.02, 16.1, 16.18, 16.24],
  [1.5, 15.84, 15.92, 16.0, 16.06, 16.12],
  [2.0, 15.75, 15.8, 15.88, 15.95, 16.0],
  [2.5, 15.6, 15.66, 15.72, 15.8, 15.88],
  [3.0, 15.5, 15.58, 15.66, 15.74],
  [3.5, 15.42, 15.5, 15.58, 15.66, 15.74],
  [4.0, 15.36, 15.44, 15.52, 15.6, 15.7],
  [4.5, 15.4, 15.48, 15.56, 15.64, 15.7],
  [5.0, 15.42, 15.5, 15.56, 15.6],
  [5.5, 15.38, 15.46, 15.52, 15.56],
  [6.0, 15.32, 15.4, 15.48, 15.56],
  [6.5, 15.34, 15.42, 15.5],
  [7.0, 15.36, 15.42, 15.48],
  [7.5, 15.4, 15.44, 15.48],
  [8.0, 15.37, 15.43, 15.47],
  [8.5, 15.33, 15.4, 15.46],
  [9.0, 15.3, 15.38, 15.46, 15.48],
  [9.5, 15.34, 15.4, 15.48, 15.5],
  [10.0, 15.38, 15.44, 15.5, 15.54],
  [10.5, 15.36, 15.42, 15.48, 15.54],
  [11.0, 15.3, 15.36, 15.42, 15.48],
  [11.5, 15.22, 15.28, 15.36, 15.44],
  [12.0, 15.16, 15.24, 15.32, 15.4],
  [12.5, 15.1, 15.18, 15.26, 15.34],
  [13.0, 15.0, 15.04, 15.1, 15.18],
  [13.5, 14.92, 14.98, 15.06],
  [14.0, 14.84, 14.9],
  [14.5, 14.72, 14.78],
  [15.0, 14.66, 14.7],
  [15.5, 14.58, 14.64, 14.7],
  [16.0, 14.5, 14.58, 14.66],
  [16.5, 14.47, 14.54, 14.62, 14.7],
  [17.0, 14.5, 14.56, 14.62, 14.68],
  [17.5, 14.46, 14.52, 14.58],
  [18.0, 14.4, 14.45, 14.5],
  [18.5, 14.36, 14.4, 14.44],
  [19.0, 14.32, 14.36, 14.4],
  [19.5, 14.33, 14.36, 14.38],
  [20.0, 14.31, 14.34, 14.36],
  [20.5, 14.28, 14.33],
  [21.0, 14.2, 14.26],
  [21.5, 14.17, 14.22, 14.27],
  [22.0, 14.15, 14.2, 14.26],
  [22.5, 14.15, 14.2],
  [23.0, 14.16, 14.22, 14.3, 14.38, 14.46, 14.54],
  [23.5, 14.17, 14.24, 14.32, 14.4, 14.48, 14.55],
  [24.0, 14.2, 14.36, 14.44, 14.52],
  [24.5, 14.4, 14.46, 14.52],
  [25.0, 14.42, 14.46, 14.5],
  [25.5, 14.43, 14.48, 14.54],
  [26.0, 14.45, 14.5, 14.55],
  [26.5, 14.36, 14.42, 14.48],
  [27.0, 14.32, 14.38, 14.44],
  [27.5, 14.22, 14.28, 14.34],
  [28.0, 14.15, 14.22, 14.28],
  [28.5, 14.12, 14.16],
  [29.0, 14.12, 14.16, 14.06, 14.0],
  [29.5, 14.09, 14.13],
  [30.0, 14.07, 14.11, 13.32]
];

var novBand = [
  [1.25, 15.86, 15.9, 15.98, 16.06, 16.14, 16.2], [1.75, 15.78, 15.84, 15.9, 15.98, 16.04], [2.25, 15.68, 15.74, 15.8, 15.86, 15.92], [2.75, 15.54, 15.62, 15.7, 15.77],
  [3.25, 15.46, 15.54, 15.62, 15.7], [3.75, 15.39, 15.46, 15.54, 15.62, 15.7], [4.25, 15.37, 15.46, 15.54, 15.62, 15.69], [4.75, 15.41, 15.46, 15.52, 15.58, 15.64],
  [5.25, 15.4, 15.46, 15.52, 15.58], [5.75, 15.35, 15.42, 15.49, 15.55], [6.25, 15.33, 15.37, 15.44, 15.52], [6.75, 15.35, 15.39, 15.45, 15.5],
  [7.25, 15.38, 15.41, 15.45, 15.5], [7.75, 15.38, 15.41, 15.45, 15.49], [8.25, 15.35, 15.39, 15.43, 15.47], [8.75, 15.31, 15.35, 15.42, 15.47],
  [9.25, 15.32, 15.36, 15.43, 15.5], [9.75, 15.36, 15.42, 15.47, 15.52], [10.25, 15.37, 15.41, 15.46, 15.52, 15.55], [10.75, 15.33, 15.39, 15.45, 15.51],
  [11.25, 15.26, 15.33, 15.39, 15.46], [11.75, 15.19, 15.26, 15.34, 15.42], [12.25, 15.13, 15.21, 15.29, 15.37], [12.75, 15.05, 15.13, 15.22, 15.3],
  [13.25, 14.96, 15.02, 15.08, 15.14], [13.75, 14.88, 14.94, 15.0], [14.25, 14.77, 14.83], [14.75, 14.68, 14.74], [15.25, 14.62, 14.68], [15.75, 14.54, 14.6, 14.67],
  [16.25, 14.48, 14.54, 14.6, 14.68], [16.75, 14.48, 14.55, 14.6, 14.66, 14.7], [17.25, 14.48, 14.54, 14.6, 14.65], [17.75, 14.43, 14.48, 14.54], [18.25, 14.38, 14.42, 14.47],
  [18.75, 14.34, 14.38, 14.42], [19.25, 14.32, 14.35, 14.38], [19.75, 14.32, 14.35, 14.37], [20.25, 14.3, 14.33, 14.36], [20.75, 14.24, 14.29], [21.25, 14.19, 14.24, 14.28],
  [21.75, 14.16, 14.21, 14.26], [22.25, 14.16, 14.2, 14.24], [22.75, 14.16, 14.2, 14.27, 14.34, 14.42, 14.5], [23.25, 14.17, 14.23, 14.31, 14.39, 14.47, 14.55],
  [23.75, 14.19, 14.26, 14.34, 14.42, 14.5, 14.54], [24.25, 14.34, 14.41, 14.48, 14.53], [24.75, 14.41, 14.45, 14.49, 14.52], [25.25, 14.42, 14.47, 14.52],
  [25.75, 14.44, 14.49, 14.54], [26.25, 14.41, 14.46, 14.52], [26.75, 14.34, 14.4, 14.46], [27.25, 14.27, 14.33, 14.39], [27.75, 14.18, 14.24, 14.3], [28.25, 14.13, 14.18, 14.24],
  [28.75, 14.12, 14.15, 14.19], [29.25, 14.1, 14.14], [29.75, 14.08, 14.12]
];

var decReadings = [
  [0.2, 13.59, 13.64, 13.69, 13.73],
  [0.6, 13.6, 13.66, 13.72, 13.78],
  [1.0, 13.56, 13.62, 13.68, 13.74, 13.8, 13.84],
  [1.4, 13.58, 13.64, 13.7, 13.76, 13.82],
  [1.8, 13.6, 13.66, 13.72, 13.78],
  [2.2, 13.54, 13.6, 13.66, 13.72],
  [2.6, 13.5, 13.56, 13.62, 13.68, 13.72],
  [3.0, 13.46, 13.52, 13.58, 13.64, 13.7],
  [3.4, 13.4, 13.46, 13.52, 13.58, 13.64, 13.7],
  [3.8, 13.36, 13.42, 13.48, 13.54, 13.6, 13.66],
  [4.2, 13.26, 13.12, 13.2, 13.32, 13.38, 13.44, 13.5, 13.56, 13.64, 13.72, 13.8],
  [4.6, 13.05, 13.42, 13.48, 13.56, 13.64, 13.72, 13.8, 13.88],
  [5.0, 13.5, 13.56, 13.62, 13.7, 13.78, 13.86],
  [5.4, 13.52, 13.6, 13.68, 13.76, 13.84, 13.92],
  [5.8, 13.22, 13.36, 13.14, 13.04, 13.6, 13.68, 13.76, 13.84, 13.92, 13.96],
  [6.2, 13.58, 13.66, 13.74, 13.82, 13.88, 13.94],
  [6.6, 13.6, 13.68, 13.74, 13.8, 13.84],
  [7.0, 13.62, 13.68, 13.74, 13.8],
  [7.4, 13.56, 13.62, 13.68, 13.74, 13.78],
  [7.8, 13.5, 13.56, 13.62, 13.68, 13.74],
  [8.2, 13.44, 13.5, 13.56, 13.62, 13.68, 13.72],
  [8.6, 13.36, 13.28, 13.2, 13.12, 13.04, 13.42, 13.5, 13.56, 13.64, 13.7],
  [9.0, 13.32, 13.26, 13.16, 13.08, 13.0, 13.38, 13.44, 13.5, 13.56, 13.62],
  [9.4, 13.3, 13.22, 13.12, 13.02, 13.36, 13.42, 13.48, 13.54],
  [9.8, 13.26, 13.18, 13.06, 13.0, 13.34, 13.4, 13.46, 13.52],
  [10.2, 13.3, 13.36, 13.42, 13.48],
  [10.6, 13.3, 13.34, 13.4, 13.46],
  [11.0, 13.28, 13.34, 13.4, 13.46],
  [11.5, 13.28, 13.34, 13.4, 13.44],
  [12.0, 13.26, 13.32, 13.38, 13.42],
  [12.5, 13.24, 13.3, 13.36],
  [13.0, 13.2, 13.26, 13.32],
  [13.5, 13.14, 13.2, 13.26],
  [14.0, 13.1, 13.16, 13.22, 13.08],
  [14.5, 13.02, 13.08, 13.14, 13.03],
  [15.0, 12.92, 12.98, 13.04, 13.1, 13.06],
  [15.5, 12.9, 12.96, 13.02, 13.08],
  [16.0, 12.87, 12.93, 12.99, 13.05],
  [16.5, 12.85, 12.91, 12.97, 13.02],
  [17.0, 12.84, 12.9, 12.96, 13.0],
  [17.5, 12.83, 12.88, 12.94, 13.0],
  [18.0, 12.84, 12.9, 12.96, 13.02],
  [18.5, 12.83, 12.89, 12.95, 13.0, 13.06],
  [19.0, 12.82, 12.88, 12.94, 13.0, 13.06],
  [19.5, 12.84, 12.9, 12.96, 13.0, 13.03],
  [20.0, 12.84, 12.9, 12.96, 13.0],
  [20.5, 12.8, 12.86, 12.92, 12.98],
  [21.0, 12.78, 12.84, 12.9, 12.96],
  [21.5, 12.79, 12.85, 12.91, 12.97],
  [22.0, 12.82, 12.88, 12.94, 13.0],
  [22.5, 12.84, 12.9, 12.96, 13.02],
  [23.0, 12.86, 12.92, 12.98, 13.04],
  [23.5, 12.9, 12.96, 13.02, 13.08, 13.12],
  [24.0, 12.92, 12.98, 13.04, 13.1, 13.16],
  [24.5, 12.92, 12.98, 13.04, 13.1, 13.14],
  [25.0, 12.92, 13.0, 13.06, 13.12, 13.15],
  [25.5, 12.94, 13.0, 13.06, 13.12],
  [26.0, 12.96, 13.02, 13.08, 13.14],
  [26.5, 12.98, 13.04, 13.1, 13.15],
  [27.0, 12.97, 13.03, 13.09, 13.14],
  [27.5, 12.98, 13.04, 13.1, 13.14],
  [28.0, 12.96, 13.02, 13.08, 13.12],
  [28.5, 12.92, 12.98, 13.04, 13.1],
  [29.0, 12.9, 12.96, 13.02, 13.08],
  [29.5, 12.89, 12.95, 13.0]
];

var decBand = [
  [0.4, 13.61, 13.67, 13.71, 13.75], [0.8, 13.58, 13.63, 13.69, 13.75, 13.81], [1.2, 13.59, 13.65, 13.71, 13.77, 13.83], [1.6, 13.57, 13.63, 13.69, 13.75, 13.79], [2.0, 13.57, 13.63, 13.69, 13.75],
  [2.4, 13.53, 13.59, 13.65, 13.71], [2.8, 13.48, 13.54, 13.6, 13.66, 13.71], [3.2, 13.43, 13.49, 13.55, 13.61, 13.67], [3.6, 13.38, 13.44, 13.5, 13.56, 13.62, 13.68], [4.0, 13.34, 13.41, 13.47, 13.53, 13.59, 13.66, 13.74],
  [4.4, 13.34, 13.4, 13.46, 13.52, 13.6, 13.68, 13.76, 13.84], [4.8, 13.46, 13.52, 13.6, 13.68, 13.76, 13.84], [5.2, 13.53, 13.59, 13.66, 13.74, 13.82, 13.89], [5.6, 13.56, 13.64, 13.72, 13.8, 13.88, 13.94], [6.0, 13.58, 13.64, 13.72, 13.8, 13.88, 13.95],
  [6.4, 13.59, 13.65, 13.71, 13.78, 13.85, 13.9], [6.8, 13.61, 13.66, 13.71, 13.77, 13.82], [7.2, 13.59, 13.65, 13.71, 13.77], [7.6, 13.53, 13.59, 13.65, 13.71, 13.76], [8.0, 13.47, 13.53, 13.59, 13.65, 13.71],
  [8.4, 13.41, 13.47, 13.53, 13.59, 13.65, 13.7], [8.8, 13.38, 13.45, 13.53, 13.6, 13.66], [9.2, 13.35, 13.41, 13.47, 13.53, 13.59], [9.6, 13.33, 13.39, 13.45, 13.51], [10.0, 13.31, 13.37, 13.43, 13.49],
  [10.4, 13.29, 13.33, 13.39, 13.45, 13.49], [10.8, 13.29, 13.33, 13.37, 13.43, 13.47], [11.25, 13.29, 13.33, 13.37, 13.42, 13.46], [11.75, 13.27, 13.33, 13.37, 13.41, 13.44], [12.25, 13.25, 13.31, 13.35, 13.4],
  [12.75, 13.22, 13.28, 13.34], [13.25, 13.17, 13.23, 13.29], [13.75, 13.12, 13.18, 13.24], [14.25, 13.06, 13.12, 13.18], [14.75, 12.97, 13.03, 13.09, 13.12], [15.25, 12.91, 12.94, 13.0, 13.06, 13.09],
  [15.75, 12.88, 12.94, 13.0, 13.06], [16.25, 12.86, 12.92, 12.98, 13.03], [16.75, 12.84, 12.9, 12.96, 13.01], [17.25, 12.83, 12.89, 12.95, 13.0], [17.75, 12.83, 12.87, 12.93, 12.99],
  [18.25, 12.83, 12.89, 12.95, 13.01, 13.05], [18.75, 12.82, 12.86, 12.92, 12.98, 13.04], [19.25, 12.83, 12.89, 12.95, 13.01, 13.05], [19.75, 12.84, 12.88, 12.94, 12.99], [20.25, 12.81, 12.87, 12.93, 12.99],
  [20.75, 12.79, 12.85, 12.91, 12.97], [21.25, 12.78, 12.82, 12.88, 12.94, 12.99], [21.75, 12.8, 12.86, 12.92, 12.98], [22.25, 12.83, 12.89, 12.95, 13.01], [22.75, 12.85, 12.91, 12.97, 13.03],
  [23.25, 12.88, 12.94, 13.0, 13.06, 13.11], [23.75, 12.91, 12.97, 13.03, 13.09, 13.14], [24.25, 12.93, 12.99, 13.05, 13.11, 13.15], [24.75, 12.93, 12.97, 13.03, 13.09, 13.14], [25.25, 12.93, 12.98, 13.03, 13.09, 13.14],
  [25.75, 12.95, 13.01, 13.07, 13.13], [26.25, 12.97, 13.03, 13.09, 13.14], [26.75, 12.97, 13.02, 13.08, 13.13], [27.25, 12.97, 13.01, 13.07, 13.13], [27.75, 12.97, 13.03, 13.09, 13.13],
  [28.25, 12.94, 13.0, 13.06, 13.11], [28.75, 12.91, 12.97, 13.03, 13.09], [29.25, 12.89, 12.93, 12.99, 13.04]
];

// set the dimensions and margins of the graph
var width = 646, height = 654;
var margin = {top: 11, right: 0, bottom: 36, left: 45};

// set the ranges
var x = d3.scaleUtc()
    .domain([Date.UTC(2004, 7, 1), Date.UTC(2004, 11, 30, 6)])
    .range([margin.left, width - margin.right]);
var y = d3.scaleLinear()
    .domain([12, 18])
    .range([height - margin.bottom, margin.top]);

// flatten the rows of one month into points
function toPoints(month, rows) {
  var points = [];
  rows.forEach(function(row) {
    var when = Date.UTC(2004, month, 1) + (row[0] - 1) * 864e5;
    row.slice(1).forEach(function(temp) {
      points.push({date: when, temp: temp});
    });
  });
  return points;
}

var data = [].concat(
  toPoints(7, augReadings),
  toPoints(7, augDense),
  toPoints(8, sepReadings),
  toPoints(8, sepDense),
  toPoints(9, octReadings),
  toPoints(9, octBand),
  toPoints(10, novReadings),
  toPoints(10, novBand),
  toPoints(11, decReadings),
  toPoints(11, decBand)
);

var svg = d3.select("#chart").append("svg")
    .attr("width", width)
    .attr("height", height);

svg.append("rect")
    .attr("x", margin.left)
    .attr("y", margin.top)
    .attr("width", width - margin.left - margin.right)
    .attr("height", height - margin.top - margin.bottom)
    .attr("fill", "#ccccff");

svg.append("g").selectAll("circle")
    .data(data)
    .enter().append("circle")
    .attr("cx", function(d) { return x(d.date); })
    .attr("cy", function(d) { return y(d.temp); })
    .attr("r", 1.9)
    .attr("fill", "none")
    .attr("stroke", "#ff0000")
    .attr("stroke-opacity", 0.78)
    .attr("stroke-width", 1.3);

// top and left frame lines
svg.append("line")
    .attr("x1", margin.left).attr("x2", width)
    .attr("y1", y(18)).attr("y2", y(18))
    .attr("stroke", "#666").attr("stroke-width", 1.5);
svg.append("line")
    .attr("x1", margin.left).attr("x2", margin.left)
    .attr("y1", y(18)).attr("y2", y(12))
    .attr("stroke", "#777").attr("stroke-width", 2);

// add the y axis
var yAxis = svg.append("g")
    .attr("transform", "translate(" + margin.left + ",0)")
    .call(d3.axisLeft(y).tickValues(tempTicks).tickSize(7).tickFormat(d3.format("d")));
yAxis.select(".domain").remove();
yAxis.selectAll("line").attr("stroke", "#222");
yAxis.selectAll("text")
    .attr("font-size", 11)
    .attr("x", null).attr("y", null).attr("dy", null)
    .attr("text-anchor", "middle")
    .attr("transform", "translate(-10,0) rotate(-90)");

svg.append("g")
    .attr("transform", "translate(" + margin.left + ",0)")
    .call(d3.axisLeft(y).tickValues(tempMinorTicks).tickSize(3).tickFormat(""))
    .call(function(g) { g.select(".domain").remove(); })
    .selectAll("line").attr("stroke", "#333");

// add the x axis
var monthStarts = monthIndex.map(function(m) { return Date.UTC(2004, m, 1); });
var xAxis = svg.append("g")
    .attr("transform", "translate(0," + y(12) + ")")
    .call(d3.axisBottom(x).tickValues(monthStarts).tickSize(6)
        .tickFormat(function(d, i) { return monthNames[i]; }));
xAxis.select(".domain").attr("stroke", "#444").attr("stroke-width", 1.5);
xAxis.selectAll("line").attr("stroke", "#777").attr("stroke-width", 1.5);
xAxis.selectAll("text").attr("font-size", 12).attr("y", 9).attr("dy", "0.71em");

// axis titles
svg.append("text")
    .attr("transform", "translate(20,315) rotate(-90)")
    .attr("text-anchor", "middle")
    .attr("font-size", 12)
    .text("Temp (degree_C)");
svg.append("text")
    .attr("x", 349.5)
    .attr("y", 652)
    .attr("text-anchor", "middle")
    .attr("font-size", 12)
    .text("2004");

// clipped scrap at the bottom left corner of the source image
svg.append("line")
    .attr("x1", 0.5).attr("x2", 0.5)
    .attr("y1", 646).attr("y2", 654)
    .attr("stroke", "#333");
</script>
</body>
</html>
